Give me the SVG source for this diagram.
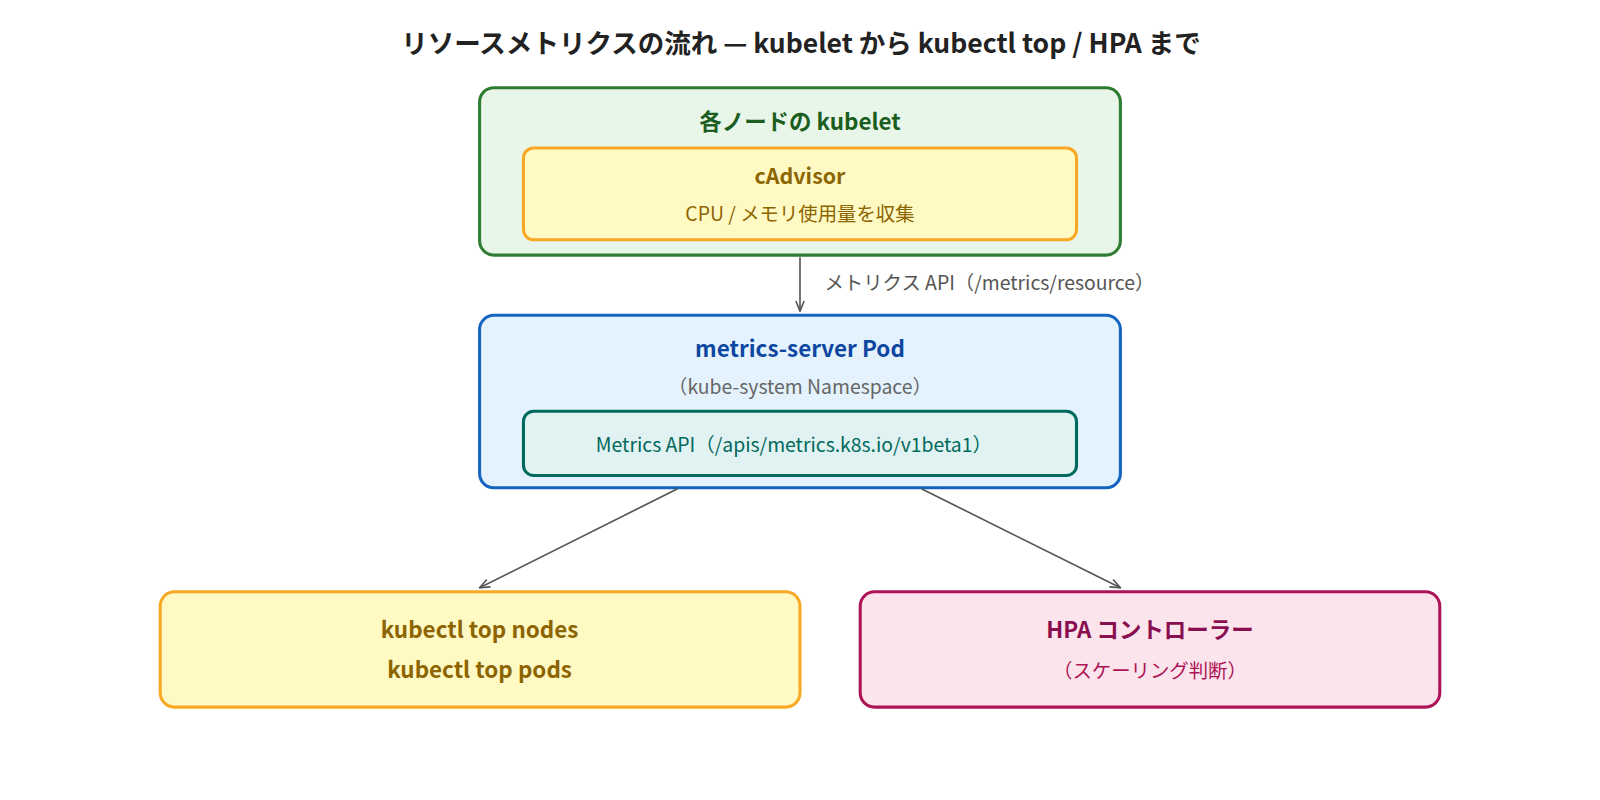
<svg xmlns="http://www.w3.org/2000/svg" width="1600" height="800" viewBox="0 0 1600 800">
<style>
text{font-family:"Noto Sans CJK JP","Noto Sans",sans-serif;text-anchor:middle;dominant-baseline:middle}
.b{font-weight:bold;font-size:22px}
.r{font-size:19px}
.box{stroke-width:3}
.conn{stroke:#555;stroke-width:1.6;fill:none}
</style>
<defs><marker id="ah" markerWidth="12" markerHeight="10" refX="11" refY="5" orient="auto" markerUnits="userSpaceOnUse"><path d="M1,1 L11,5 L1,9" fill="none" stroke="#555" stroke-width="1.6"/></marker></defs>
<rect width="1600" height="800" fill="#fff"/>
<g transform="scale(1.0204)">
<text x="785" y="45" style="font-size:26px;font-weight:bold" fill="#222">リソースメトリクスの流れ — kubelet から kubectl top / HPA まで</text>
<g id="kubelet">
<rect class="box" x="470" y="86" width="628" height="164" rx="14" fill="#e8f5e9" stroke="#2e7d32"/>
<text class="b" x="784" y="121" fill="#1b5e20">各ノードの kubelet</text>
</g>
<g id="cadvisor">
<rect class="box" x="513" y="145" width="542" height="90" rx="10" fill="#fff9c4" stroke="#f9a825"/>
<text class="b" x="784" y="175" fill="#8d6500" style="font-size:21px">cAdvisor</text>
<text class="r" x="784" y="211" fill="#8d6500">CPU / メモリ使用量を収集</text>
</g>
<g id="metrics-server">
<rect class="box" x="470" y="309" width="628" height="169" rx="14" fill="#e3f2fd" stroke="#1565c0"/>
<text class="b" x="784" y="344" fill="#0d47a1">metrics-server Pod</text>
<text class="r" x="784" y="381" fill="#666">（kube-system Namespace）</text>
</g>
<g id="metrics-api">
<rect class="box" x="513" y="403" width="542" height="63" rx="10" fill="#e0f2f1" stroke="#00695c"/>
<text class="r" x="778" y="438" fill="#00695c">Metrics API（/apis/metrics.k8s.io/v1beta1）</text>
</g>
<g id="kubectl-top">
<rect class="box" x="157" y="580" width="627" height="113" rx="14" fill="#fff9c4" stroke="#f9a825"/>
<text class="b" x="470" y="619" fill="#8d6500">kubectl top nodes</text>
<text class="b" x="470" y="658" fill="#8d6500">kubectl top pods</text>
</g>
<g id="hpa">
<rect class="box" x="843" y="580" width="568" height="113" rx="14" fill="#fce4ec" stroke="#ad1457"/>
<text class="b" x="1127" y="619" fill="#880e4f">HPA コントローラー</text>
<text class="r" x="1127" y="659" fill="#ad1457">（スケーリング判断）</text>
</g>
<g id="connectors">
<line class="conn" x1="784" y1="252" x2="784" y2="305" marker-end="url(#ah)"/>
<text class="r" x="808" y="279" fill="#555" style="text-anchor:start">メトリクス API（/metrics/resource）</text>
<line class="conn" x1="664" y1="479" x2="470" y2="576" marker-end="url(#ah)"/>
<line class="conn" x1="903" y1="479" x2="1098" y2="576" marker-end="url(#ah)"/>
</g>
</g>
</svg>
